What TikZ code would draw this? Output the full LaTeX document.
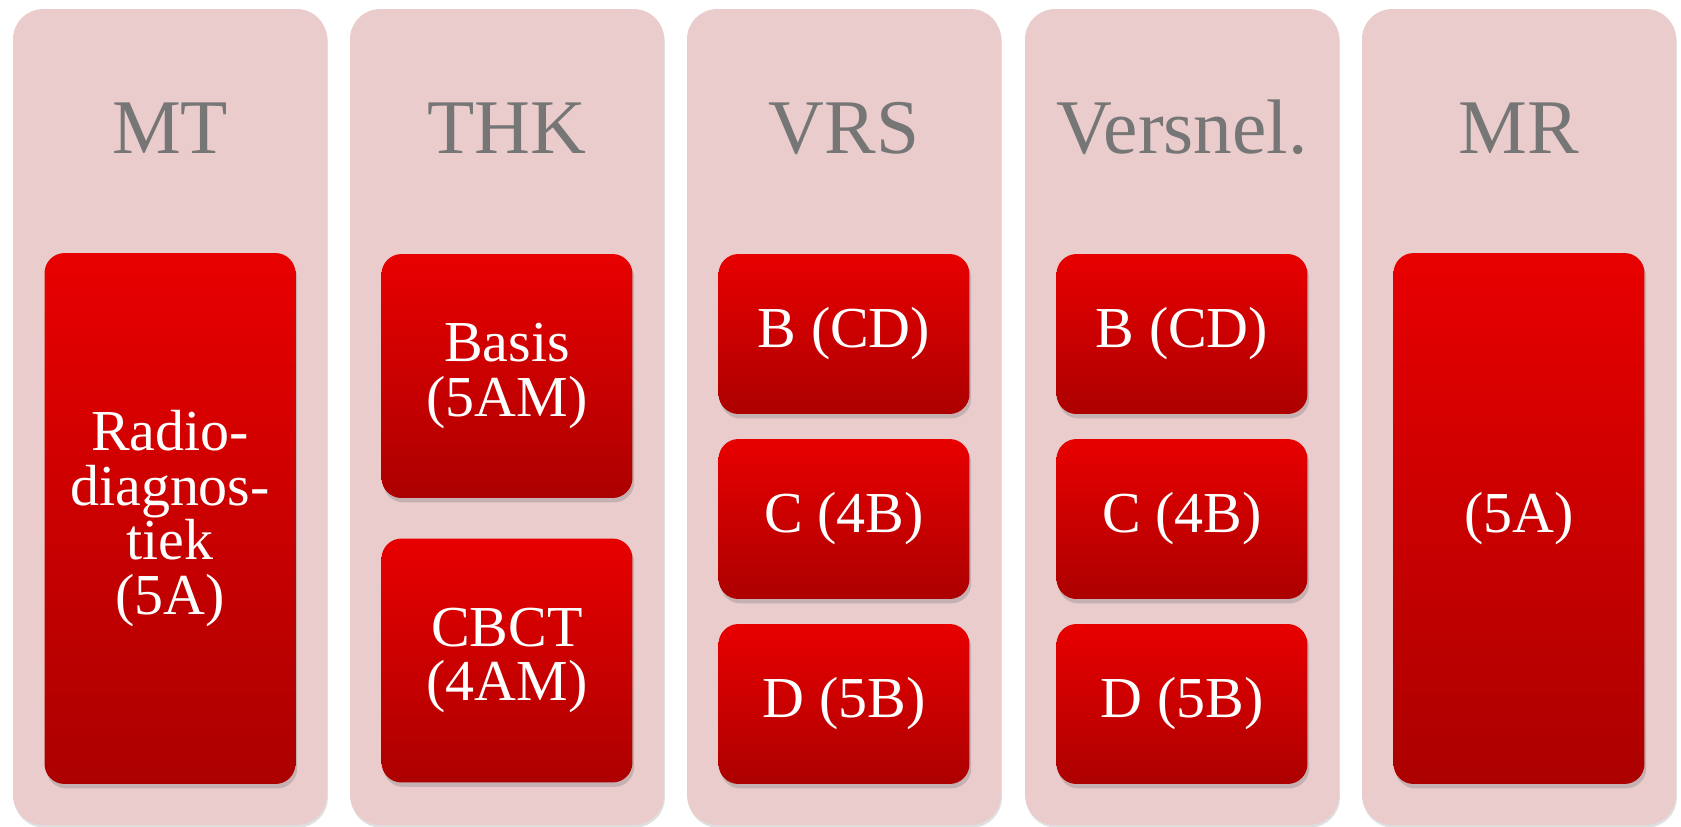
\documentclass[tikz,border=0pt]{standalone}
\usepackage{fontspec}
\setmainfont{Liberation Serif}
\usepackage{tikz}
\usetikzlibrary{shadows}

\definecolor{colfill}{RGB}{234,204,204}
\definecolor{titlegray}{RGB}{118,118,118}
\definecolor{redtop}{RGB}{232,0,0}
\definecolor{redbot}{RGB}{172,0,0}

\tikzset{
  column/.style={fill=colfill, rounded corners=0.6cm, minimum width=6.28cm,
    minimum height=16.32cm, inner sep=0pt,
    drop shadow={opacity=0.25, shadow xshift=0.5pt, shadow yshift=-1.5pt}},
  coltitle/.style={text=titlegray, font=\fontsize{44}{44}\selectfont, anchor=base},
  redbox/.style={top color=redtop, bottom color=redbot, rounded corners=0.4cm,
    minimum width=5.02cm, inner sep=0pt, text=white, align=center,
    font=\fontsize{33}{31}\selectfont,
    drop shadow={opacity=0.35, shadow xshift=1pt, shadow yshift=-2.5pt}},
}

\begin{document}
\begin{tikzpicture}[x=0.02cm, y=-0.02cm]
            \useasboundingbox (0,0) rectangle (1681,826);
            % columns
            \foreach \name/\cx/\title in {mt/170/MT, thk/507/THK, vrs/844/VRS, vers/1182/Versnel., mr/1519/MR}
            {
                \node[column] (\name) at (\cx,417) {};
                \node[coltitle] (\name-title) at (\cx,153) {\title};
            }
            % MT
            \node[redbox, minimum height=10.62cm] (mt-rd) at (170,518.5) {Radio-\\diagnos-\\tiek\\(5A)};
            % THK
            \node[redbox, minimum height=4.88cm] (thk-basis) at (507,376) {Basis\\(5AM)};
            \node[redbox, minimum height=4.88cm] (thk-cbct) at (507,660.5) {CBCT\\(4AM)};
            % VRS and Versnel.
            \foreach \name/\cx in {vrs/844, vers/1182}
            {
                \node[redbox, minimum height=3.2cm] (\name-b) at (\cx,334) {B (CD)};
                \node[redbox, minimum height=3.2cm] (\name-c) at (\cx,519) {C (4B)};
                \node[redbox, minimum height=3.2cm] (\name-d) at (\cx,704) {D (5B)};
            }
            % MR
            \node[redbox, minimum height=10.62cm] (mr-box) at (1519,518.5) {(5A)};
        \end{tikzpicture}
\end{document}
